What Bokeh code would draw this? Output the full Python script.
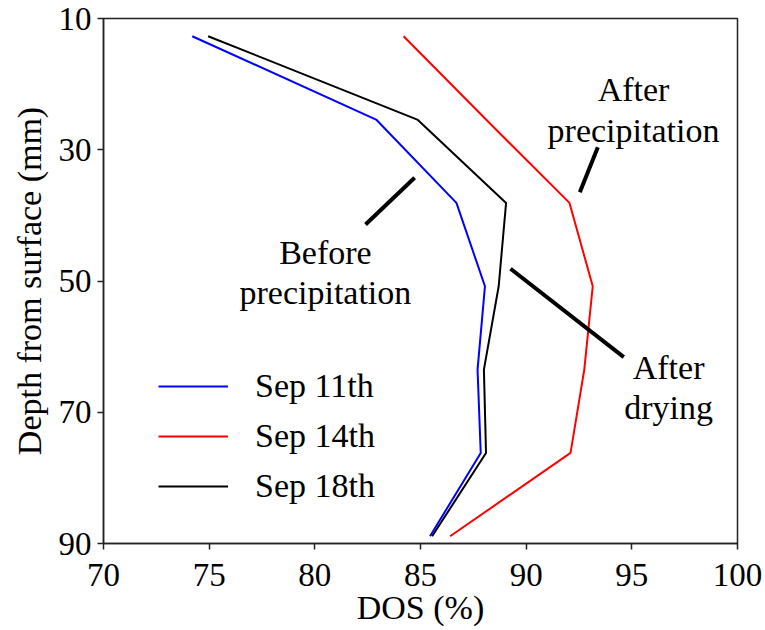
from bokeh.plotting import figure
from bokeh.models import Range1d, FixedTicker, Legend, LegendItem
from bokeh.core.properties import value
from bokeh.embed import file_html
from bokeh.resources import INLINE

# ---- data ----
depth = [12.7, 25.4, 38.1, 50.8, 63.5, 76.2, 88.9]
sep11 = [74.2, 82.9, 86.7, 88.05, 87.7, 87.85, 85.45]
sep14 = [84.2, 88.1, 92.05, 93.15, 92.75, 92.1, 86.4]
sep18 = [74.95, 84.85, 89.05, 88.7, 88.0, 88.1, 85.55]
series_names = ["Sep 11th", "Sep 14th", "Sep 18th"]
series_colors = ["blue", "red", "black"]
x_ticks = [70, 75, 80, 85, 90, 95, 100]
y_ticks = [10, 30, 50, 70, 90]

# annotation texts (data coordinates)
ann_text = ["Before", "precipitation", "After", "precipitation", "After", "drying"]
ann_x = [80.5, 80.5, 95.08, 95.08, 96.74, 96.74]
ann_y = [45.61, 51.70, 20.87, 27.07, 63.13, 69.23]
# pointer lines
ptr_x0 = [82.40, 92.54, 89.26]
ptr_y0 = [41.39, 36.47, 48.14]
ptr_x1 = [84.72, 93.39, 94.62]
ptr_y1 = [34.27, 29.61, 61.61]

FONT = "Liberation Serif"
FS = "33px"
FS_BIG = "34px"

p = figure(frame_width=634, frame_height=525,
           min_border_left=103, min_border_right=28,
           min_border_top=18, min_border_bottom=87,
           x_range=Range1d(70, 100), y_range=Range1d(90, 10),
           output_backend="svg", toolbar_location=None)

p.xgrid.visible = False
p.ygrid.visible = False
p.outline_line_color = "#222222"
p.outline_line_width = 1.5

for ax in (p.xaxis[0], p.yaxis[0]):
    ax.axis_line_color = "#222222"
    ax.axis_line_width = 1.5
    ax.major_tick_line_color = "#222222"
    ax.major_tick_line_width = 1.5
    ax.major_tick_out = 6
    ax.major_tick_in = 0
    ax.minor_tick_line_color = None
    ax.major_label_text_font = FONT
    ax.major_label_text_font_size = FS
    ax.major_label_text_color = "black"
    ax.axis_label_text_font = FONT
    ax.axis_label_text_font_size = FS_BIG
    ax.axis_label_text_font_style = "normal"
    ax.axis_label_text_color = "black"

p.xaxis.ticker = FixedTicker(ticks=x_ticks)
p.yaxis.ticker = FixedTicker(ticks=y_ticks)
p.xaxis.axis_label = "DOS (%)"
p.yaxis.axis_label = "Depth from surface (mm)"
p.xaxis.major_label_standoff = 14
p.yaxis.major_label_standoff = 6
p.xaxis.axis_label_standoff = 0
p.yaxis.axis_label_standoff = 8

renderers = []
for vals, col in zip([sep11, sep14, sep18], series_colors):
    r = p.line(vals, depth, line_color=col, line_width=2)
    renderers.append(r)

p.segment(x0=ptr_x0, y0=ptr_y0, x1=ptr_x1, y1=ptr_y1,
          line_color="black", line_width=4)

p.text(x=ann_x, y=ann_y, text=ann_text, text_font=value(FONT),
       text_font_size=FS_BIG, text_align="center", text_baseline="alphabetic",
       text_color="black")

legend = Legend(items=[LegendItem(label=n, renderers=[r]) for n, r in zip(series_names, renderers)],
                location=(55, 37), glyph_width=70, glyph_height=40,
                label_height=40, label_standoff=27, spacing=10,
                padding=0, margin=0,
                label_text_font=FONT, label_text_font_size=FS_BIG,
                label_text_color="black",
                background_fill_alpha=0, border_line_color=None)
p.add_layout(legend, "center")

open("out.html", "w").write(file_html(p, INLINE))
